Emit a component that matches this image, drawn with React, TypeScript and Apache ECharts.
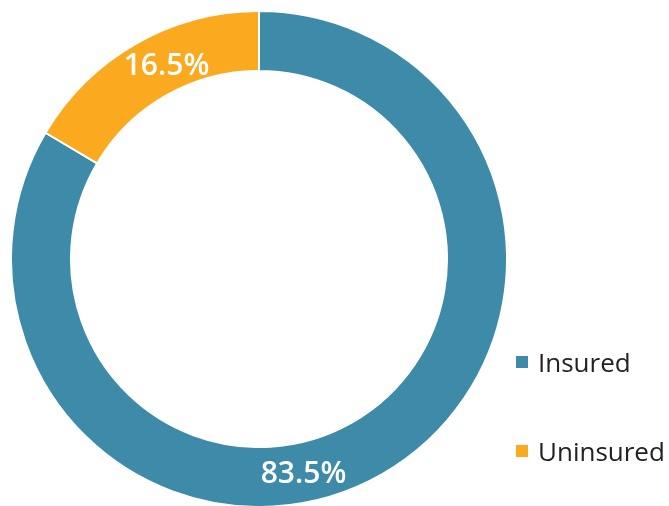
import React, { useEffect, useRef } from "react";
import * as echarts from "echarts";

const categories = ["Insured", "Uninsured"];
const values = [83.5, 16.5];
const colors = ["#3D8BA8", "#FBA91E"];
const labelOffsets: [number, number][] = [[-65, 21], [17, -4]];

export default function App() {
  const ref = useRef<HTMLDivElement>(null);
  useEffect(() => {
    const chart = echarts.init(ref.current!, null, { renderer: "svg" });
    chart.setOption({
      animation: false,
      legend: {
        orient: "vertical",
        left: 514,
        top: 349,
        padding: 0,
        icon: "rect",
        itemWidth: 14,
        itemHeight: 14,
        itemGap: 63,
        textStyle: { fontSize: 26, color: "#222", fontFamily: "Open Sans", padding: [0, 0, 0, 4] },
        data: categories,
      },
      series: [
        {
          type: "pie",
          center: [259, 259],
          radius: [188, 248],
          startAngle: 90,
          clockwise: true,
          itemStyle: { borderColor: "#fff", borderWidth: 2 },
          label: {
            show: true,
            position: "inside",
            formatter: (p: any) => p.value.toFixed(1) + "%",
            color: "#fff",
            fontSize: 30,
            fontWeight: 600,
            fontFamily: "Open Sans",
          },
          labelLine: { show: false },
          data: categories.map((c, i) => ({
            name: c,
            value: values[i],
            itemStyle: { color: colors[i] },
            label: { offset: labelOffsets[i] },
          })),
        },
      ],
    });
    return () => chart.dispose();
  }, []);
  return <div ref={ref} style={{ position: "fixed", left: 0, top: 0, width: 669, height: 506 }} />;
}
